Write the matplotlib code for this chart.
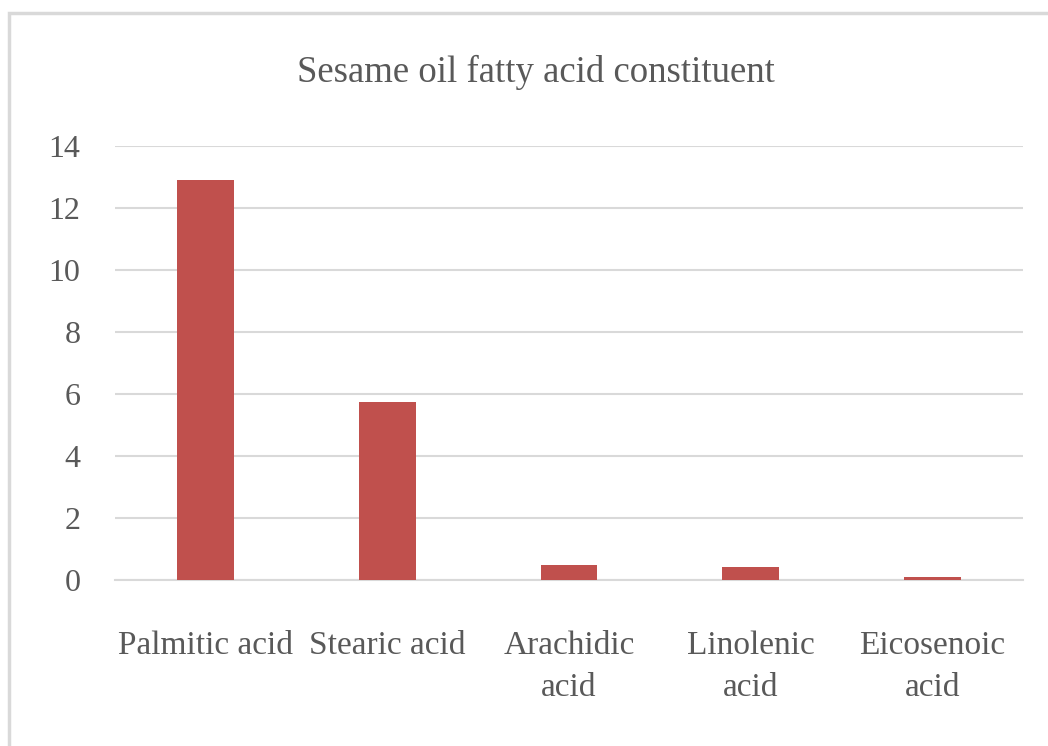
import matplotlib
matplotlib.use("Agg")
from matplotlib import pyplot as plt
from matplotlib.patches import Rectangle

categories = ["Palmitic acid", "Stearic acid", "Arachidic\nacid", "Linolenic\nacid", "Eicosenoic\nacid"]
values = [12.9, 5.75, 0.47, 0.41, 0.09]
yticks = [0, 2, 4, 6, 8, 10, 12, 14]
title = "Sesame oil fatty acid constituent"

W, H = 1048, 746
plt.rcParams["font.family"] = ["Liberation Serif", "DejaVu Serif"]

fig = plt.figure(figsize=(W / 100, H / 100), dpi=100)

# outer chart frame (Excel style), runs off the right and bottom edges
fig.patches.append(Rectangle((8.5 / W, -0.1), 1.2, (H - 13) / H + 0.1,
                             transform=fig.transFigure, fill=False,
                             edgecolor="#D9D9D9", linewidth=2.5))

ax = fig.add_axes([115 / W, (H - 580) / H, (1023 - 115) / W, (580 - 146) / H])
x = range(len(categories))
ax.bar(x, values, width=0.313, color="#C0504D", zorder=3)

ax.set_xlim(-0.5, len(categories) - 0.5)
ax.set_ylim(0, 14)
ax.set_yticks(yticks)
ax.set_xticks(list(x))
ax.set_xticklabels(categories, linespacing=1.52)
ax.tick_params(axis="both", length=0, colors="#595959")
ax.tick_params(axis="y", pad=25, labelsize=23)
ax.tick_params(axis="x", pad=36, labelsize=24)

ax.grid(axis="y", color="#D9D9D9", linewidth=1.5, zorder=0)
for side in ["top", "right", "left"]:
    ax.spines[side].set_visible(False)
ax.spines["bottom"].set_color("#D9D9D9")
ax.spines["bottom"].set_linewidth(1.5)

fig.text(536 / W, (H - 72) / H, title, ha="center", va="center",
         fontsize=26.5, color="#595959")

fig.savefig("out.png", dpi=100)
